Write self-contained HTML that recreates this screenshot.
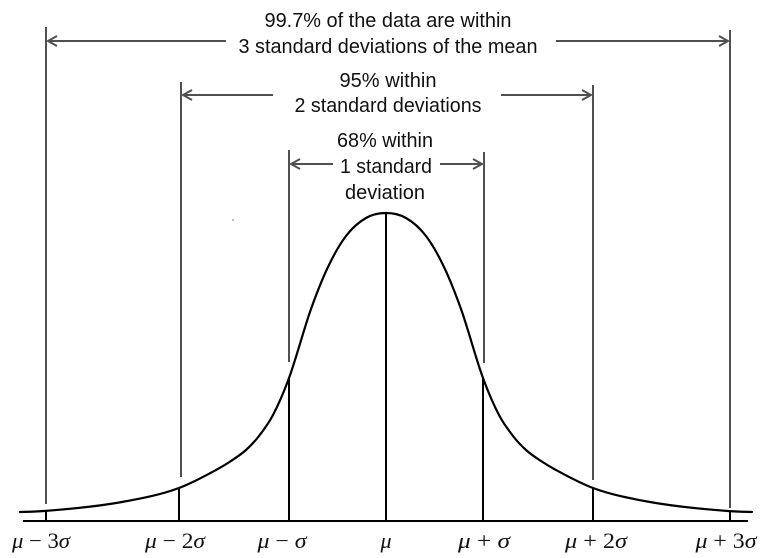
<!DOCTYPE html>
<html><head><meta charset="utf-8"><style>
html,body{margin:0;padding:0;background:#fff;}
svg{display:block;}
.t{font-family:"Liberation Sans",sans-serif;font-size:20px;fill:#111;}
.m{font-family:"Liberation Serif",serif;font-size:22px;fill:#111;}
</style></head><body>
<svg width="769" height="558" viewBox="0 0 769 558" xmlns="http://www.w3.org/2000/svg">
<rect width="769" height="558" fill="#fff"/>
<!-- gray vertical guides -->
<g stroke="#505050" stroke-width="2" fill="none">
<line x1="46" y1="27" x2="46" y2="504"/>
<line x1="181" y1="82" x2="181" y2="477"/>
<line x1="289" y1="150" x2="289" y2="362"/>
<line x1="484" y1="152" x2="484" y2="363"/>
<line x1="593" y1="85" x2="593" y2="480"/>
<line x1="730" y1="30" x2="730" y2="508"/>
<!-- arrows -->
<line x1="226" y1="41" x2="48" y2="41"/>
<polyline points="57,36 48,41 57,46"/>
<line x1="556" y1="41" x2="728" y2="41"/>
<polyline points="719,36 728,41 719,46"/>
<line x1="273" y1="95" x2="183" y2="95"/>
<polyline points="192,90 183,95 192,100"/>
<line x1="501" y1="95" x2="591" y2="95"/>
<polyline points="582,90 591,95 582,100"/>
<line x1="333" y1="164" x2="291" y2="164"/>
<polyline points="300,159 291,164 300,169"/>
<line x1="440" y1="164" x2="482" y2="164"/>
<polyline points="473,159 482,164 473,169"/>
</g>
<circle cx="233" cy="220" r="0.8" fill="#777"/>
<!-- black verticals -->
<g stroke="#000" stroke-width="2">
<line x1="46" y1="511" x2="46" y2="521"/>
<line x1="179" y1="488" x2="179" y2="521"/>
<line x1="289" y1="378" x2="289" y2="521"/>
<line x1="386" y1="213" x2="386" y2="521"/>
<line x1="483" y1="378" x2="483" y2="521"/>
<line x1="593" y1="488" x2="593" y2="521"/>
<line x1="730" y1="511" x2="730" y2="521"/>
<line x1="23" y1="521" x2="748" y2="521"/>
</g>
<!-- curve -->
<path fill="none" stroke="#000" stroke-width="2.2" stroke-linecap="round" d="M20,512
C28,511.76 36,511.6 44,511
C70,509.05 96,506.68 122,502
C141,498.58 160,495.03 179,488
C191.33,483.44 203.67,476.7 216,470
C221,467.29 226,464.34 231,461
C236,457.67 241,454.53 246,450
C250.33,446.08 254.67,441.59 259,436
C263.67,429.98 268.33,423.87 273,415
C278.33,404.87 283.67,392.56 289,378
C296.33,357.99 303.67,329.53 311,309
C316.67,293.13 322.33,278.9 328,267
C334,254.4 340,243.86 346,236
C352.67,227.26 359.33,221.83 366,218
C372.67,214.17 379.33,213 386,213
C392.67,213 399.33,214.17 406,218
C412.67,221.83 419.33,227.26 426,236
C432,243.86 438,254.4 444,267
C449.67,278.9 455.33,293.13 461,309
C468.33,329.53 475.67,357.99 483,378
C488.33,392.56 493.67,404.87 499,415
C503.67,423.87 508.33,429.98 513,436
C517.33,441.59 521.67,446.08 526,450
C531,454.53 536,457.67 541,461
C546,464.34 551,467.29 556,470
C568.33,476.7 580.67,483.44 593,488
C612,495.03 631,498.58 650,502
C676,506.68 702,509.05 728,511
C736,511.6 744,511.76 752,512"/>
<!-- texts -->
<g class="t" text-anchor="middle">
<text x="388" y="27" textLength="247" lengthAdjust="spacingAndGlyphs">99.7% of the data are within</text>
<text x="388" y="53" textLength="299" lengthAdjust="spacingAndGlyphs">3 standard deviations of the mean</text>
<text x="388" y="87" textLength="97" lengthAdjust="spacingAndGlyphs">95% within</text>
<text x="388" y="112" textLength="187" lengthAdjust="spacingAndGlyphs">2 standard deviations</text>
<text x="385" y="147" textLength="96" lengthAdjust="spacingAndGlyphs">68% within</text>
<text x="386" y="173" textLength="92" lengthAdjust="spacingAndGlyphs">1 standard</text>
<text x="385" y="199" textLength="80" lengthAdjust="spacingAndGlyphs">deviation</text>
</g>
<g class="m" text-anchor="middle">
<text x="41" y="548" textLength="58" lengthAdjust="spacingAndGlyphs"><tspan font-style="italic">μ</tspan> − 3<tspan font-style="italic">σ</tspan></text>
<text x="175" y="548" textLength="60" lengthAdjust="spacingAndGlyphs"><tspan font-style="italic">μ</tspan> − 2<tspan font-style="italic">σ</tspan></text>
<text x="282" y="548" textLength="49" lengthAdjust="spacingAndGlyphs"><tspan font-style="italic">μ</tspan> − <tspan font-style="italic">σ</tspan></text>
<text x="386" y="548" font-style="italic">μ</text>
<text x="484" y="548" textLength="52" lengthAdjust="spacingAndGlyphs"><tspan font-style="italic">μ</tspan> + <tspan font-style="italic">σ</tspan></text>
<text x="596" y="548" textLength="62" lengthAdjust="spacingAndGlyphs"><tspan font-style="italic">μ</tspan> + 2<tspan font-style="italic">σ</tspan></text>
<text x="726" y="548" textLength="61" lengthAdjust="spacingAndGlyphs"><tspan font-style="italic">μ</tspan> + 3<tspan font-style="italic">σ</tspan></text>
</g>
</svg>
</body></html>
